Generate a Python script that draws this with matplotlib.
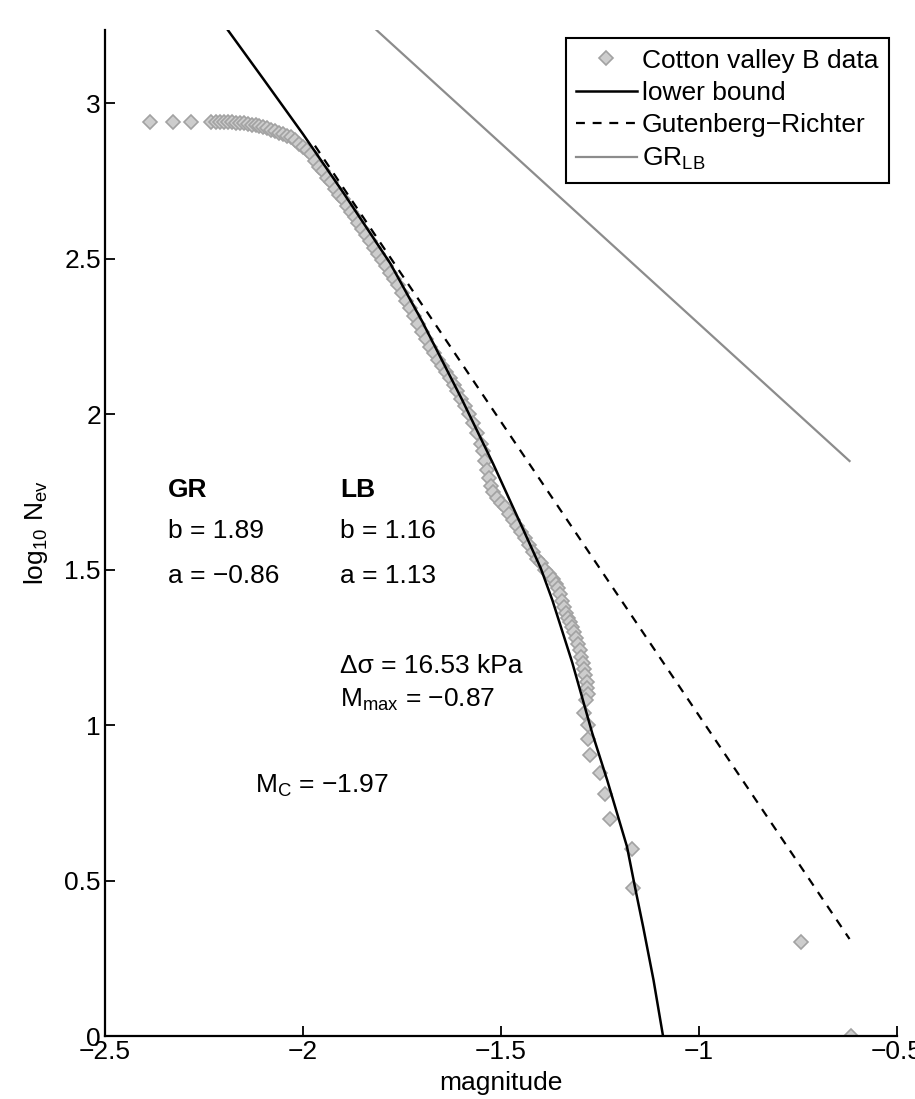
import matplotlib.pyplot as plt
from matplotlib.ticker import FixedLocator, FixedFormatter

plt.rcParams['font.family'] = ['Liberation Sans', 'DejaVu Sans']
plt.rcParams['mathtext.fontset'] = 'custom'
plt.rcParams['mathtext.rm'] = 'Liberation Sans'
plt.rcParams['mathtext.it'] = 'Liberation Sans:italic'
plt.rcParams['mathtext.bf'] = 'Liberation Sans:bold'
plt.rcParams['font.size'] = 19

data_mag = [-2.386, -2.328, -2.283, -2.232,
            -2.22, -2.21, -2.20, -2.19, -2.18, -2.17, -2.16, -2.15, -2.14, -2.13,
            -2.12, -2.11, -2.10, -2.09, -2.08, -2.07, -2.06, -2.05, -2.04, -2.03,
            -2.02, -2.01, -2.00, -1.99, -1.98, -1.97, -1.96, -1.95, -1.94, -1.93,
            -1.92, -1.91, -1.90, -1.89, -1.88, -1.87, -1.86, -1.85, -1.84, -1.83,
            -1.82, -1.81, -1.80, -1.79, -1.78, -1.77, -1.76, -1.75, -1.74, -1.73,
            -1.72, -1.71, -1.70, -1.69, -1.68, -1.67, -1.66, -1.65, -1.64, -1.63,
            -1.62, -1.61, -1.60, -1.59, -1.58, -1.57, -1.56, -1.55, -1.545, -1.54,
            -1.535, -1.53, -1.525, -1.52, -1.51, -1.50, -1.49, -1.48, -1.47, -1.46,
            -1.45, -1.44, -1.43, -1.42, -1.41, -1.40, -1.39, -1.38, -1.37, -1.36,
            -1.355, -1.35, -1.345, -1.34, -1.335, -1.33, -1.325, -1.32, -1.315,
            -1.31, -1.305, -1.30, -1.297, -1.294, -1.29, -1.287, -1.284, -1.282,
            -1.28, -1.285, -1.29, -1.28, -1.28, -1.275, -1.25, -1.237, -1.225,
            -1.169, -1.166, -0.742, -0.616]
data_logn = [2.94, 2.94, 2.94, 2.94,
             2.94, 2.94, 2.94, 2.94, 2.94, 2.937, 2.935, 2.935, 2.933, 2.93,
             2.928, 2.925, 2.922, 2.92, 2.915, 2.91, 2.905, 2.90, 2.895, 2.89,
             2.88, 2.87, 2.86, 2.85, 2.835, 2.815, 2.795, 2.78, 2.76, 2.745,
             2.725, 2.705, 2.69, 2.67, 2.65, 2.635, 2.615, 2.595, 2.575, 2.555,
             2.535, 2.515, 2.495, 2.475, 2.455, 2.435, 2.415, 2.39, 2.365, 2.34,
             2.315, 2.29, 2.265, 2.24, 2.215, 2.195, 2.175, 2.155, 2.135, 2.115,
             2.095, 2.075, 2.05, 2.025, 2.00, 1.97, 1.94, 1.905, 1.88, 1.85,
             1.82, 1.795, 1.77, 1.75, 1.73, 1.715, 1.70, 1.68, 1.66, 1.64,
             1.62, 1.60, 1.58, 1.555, 1.535, 1.52, 1.50, 1.485, 1.47, 1.455,
             1.44, 1.42, 1.40, 1.38, 1.36, 1.345, 1.33, 1.315, 1.30,
             1.28, 1.26, 1.24, 1.22, 1.20, 1.18, 1.16, 1.14, 1.12,
             1.10, 1.08, 1.04, 1.0, 0.954, 0.903, 0.845, 0.778, 0.699,
             0.602, 0.477, 0.301, 0.0]

# lower bound curve
lb_mag = [-2.22, -2.19, -2.10, -2.00, -1.90, -1.78, -1.70, -1.598, -1.52,
          -1.447, -1.40, -1.37, -1.32, -1.27, -1.232, -1.182, -1.162, -1.141,
          -1.115, -1.091]
lb_logn = [3.29, 3.235, 3.077, 2.90, 2.715, 2.485, 2.30, 2.045, 1.84,
           1.637, 1.505, 1.40, 1.20, 0.975, 0.823, 0.609, 0.48, 0.35,
           0.18, 0.0]

# Gutenberg-Richter fit
gr_mag = [-1.97, -0.62]
gr_logn = [2.863, 0.312]

# GR with lower-bound parameters
grlb_mag = [-1.85, -0.62]
grlb_logn = [3.276, 1.849]

xticks = [-2.5, -2, -1.5, -1, -0.5]
xticklabels = ['\u22122.5', '\u22122', '\u22121.5', '\u22121', '\u22120.5']
yticks = [0, 0.5, 1, 1.5, 2, 2.5, 3]
yticklabels = ['0', '0.5', '1', '1.5', '2', '2.5', '3']

fig = plt.figure(figsize=(9.15, 10.99), dpi=100)
ax = fig.add_axes([0.1148, 0.0573, 0.8656, 0.9154])

ax.plot(data_mag, data_logn, linestyle='none', marker='D', markersize=7.5,
        markerfacecolor='#cdcdcd', markeredgecolor='#a2a2a2', markeredgewidth=1.2,
        label='Cotton valley B data', zorder=2)
ax.plot(lb_mag, lb_logn, color='black', lw=1.8, label='lower bound', zorder=3)
ax.plot(gr_mag, gr_logn, color='black', lw=1.6, linestyle=(0, (4, 3.5)),
        label='Gutenberg\u2212Richter', zorder=3)
ax.plot(grlb_mag, grlb_logn, color='#8c8c8c', lw=1.6, label='GR$_{\\mathrm{LB}}$', zorder=3)

ax.set_xlim(-2.5, -0.5)
ax.set_ylim(0, 3.235)
ax.xaxis.set_major_locator(FixedLocator(xticks))
ax.xaxis.set_major_formatter(FixedFormatter(xticklabels))
ax.yaxis.set_major_locator(FixedLocator(yticks))
ax.yaxis.set_major_formatter(FixedFormatter(yticklabels))
ax.tick_params(direction='in', length=7, width=1.3, labelsize=19, pad=3)

ax.spines['top'].set_visible(False)
ax.spines['right'].set_visible(False)
ax.spines['left'].set_linewidth(1.6)
ax.spines['bottom'].set_linewidth(1.6)

ax.set_xlabel('magnitude', fontsize=19)
ax.xaxis.set_label_coords(0.5, -0.035)
ax.set_ylabel('log$_{10}$ N$_{\\mathrm{ev}}$', fontsize=19)
ax.yaxis.set_label_coords(-0.07, 0.5)

ax.text(-2.341, 1.733, 'GR', fontweight='bold', va='baseline')
ax.text(-1.907, 1.733, 'LB', fontweight='bold', va='baseline')
ax.text(-2.341, 1.601, 'b = 1.89', va='baseline')
ax.text(-1.907, 1.601, 'b = 1.16', va='baseline')
ax.text(-2.341, 1.457, 'a = \u22120.86', va='baseline')
ax.text(-1.907, 1.457, 'a = 1.13', va='baseline')
ax.text(-1.907, 1.167, '\u0394\u03c3 = 16.53 kPa', va='baseline')
ax.text(-1.907, 1.058, 'M$_{\\mathrm{max}}$ = \u22120.87', va='baseline')
ax.text(-2.121, 0.781, 'M$_{\\mathrm{C}}$ = \u22121.97', va='baseline')

leg = ax.legend(loc='upper right', bbox_to_anchor=(0.99, 0.992), numpoints=1,
                fancybox=False, framealpha=1, edgecolor='black', fontsize=19,
                handlelength=2.3, handletextpad=0.2, labelspacing=0.32,
                borderpad=0.4, borderaxespad=0)
leg.get_frame().set_linewidth(1.5)

fig.savefig('out.png', dpi=100)
